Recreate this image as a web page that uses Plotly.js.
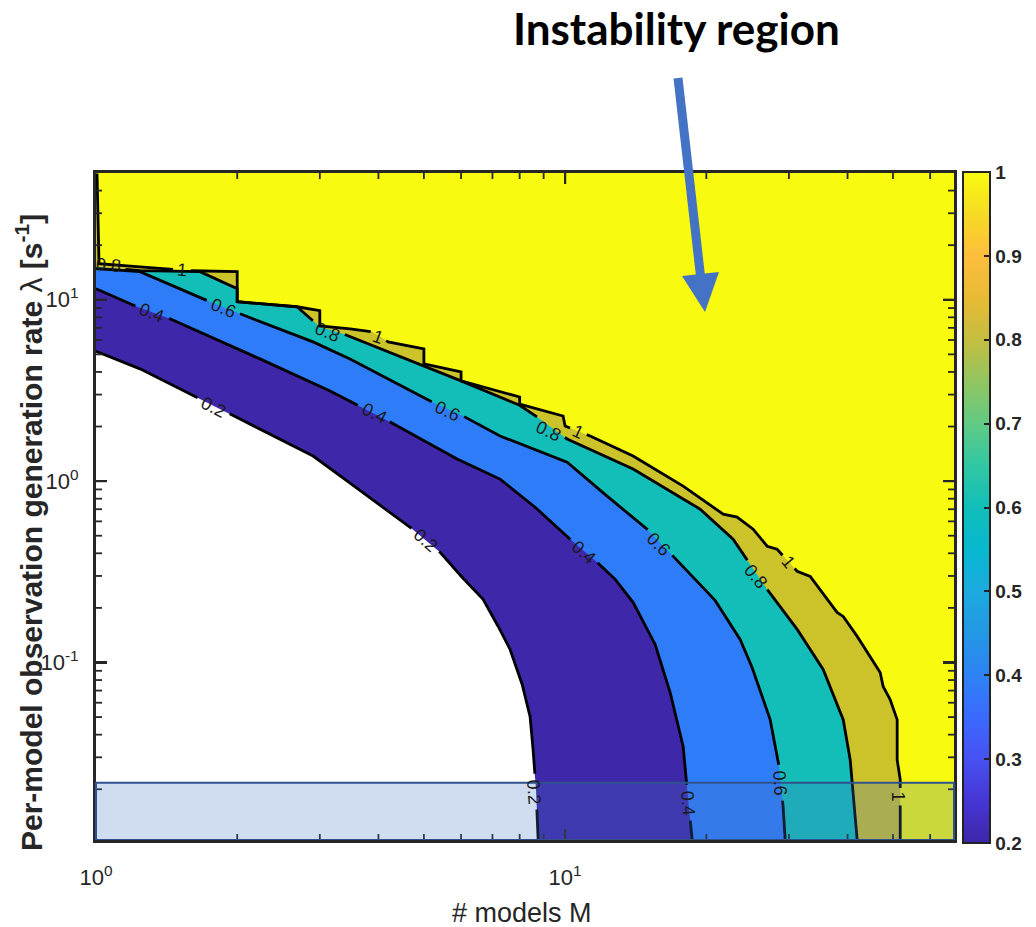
<!DOCTYPE html>
<html><head><meta charset="utf-8">
<script src="https://cdn.plot.ly/plotly-3.0.1.min.js"></script>
<style>html,body{margin:0;padding:0;background:#fff}#chart{width:1036px;height:927px}</style>
</head><body><div id="chart"></div>
<script>
// ---------------- data ----------------
// contour lines: # models M  vs  per-model rate lambda [1/s]
const line02M = [1, 1.241, 1.666, 1.931, 2.902, 3.48, 4.672, 5.414, 6.03, 6.686, 7.20, 7.633, 8.10, 8.42, 8.545, 8.67, 8.76];
const line02L = [5.2, 4.16, 2.84, 2.345, 1.375, 0.975, 0.557, 0.405, 0.295, 0.2229, 0.158, 0.118, 0.0756, 0.0503, 0.0331, 0.0199, 0.0105];

const line04M = [1, 1.223, 1.438, 2.237, 3.155, 4.236, 5.886, 7.267, 8.63, 10.25, 11.7, 12.79, 13.96, 15.56, 16.75, 17.85, 18.29, 18.66];
const line04L = [11.5, 9.15, 7.85, 4.72, 3.14, 2.118, 1.323, 1.026, 0.718, 0.4785, 0.3568, 0.2874, 0.2145, 0.1257, 0.0683, 0.0344, 0.0175, 0.0105];

const line06M = [1, 1.241, 1.75, 2.028, 2.902, 3.48, 5.154, 6.06, 7.267, 10.1, 12.29, 14.96, 17.0, 20.88, 23.61, 25.04, 27.36, 28.46, 29.16, 29.45];
const line06L = [14.84, 14.28, 9.75, 8.37, 5.86, 4.72, 2.767, 2.286, 1.773, 1.273, 0.826, 0.543, 0.385, 0.22, 0.134, 0.0938, 0.0484, 0.0291, 0.016, 0.0105];

const line08M = [1, 1.241, 1.666, 2, 2, 2.683, 3, 3.363, 5, 6, 8, 8.545, 10.1, 13.96, 19.4, 22.81, 26.96, 31.24, 35.49, 39.16, 40.52, 41.12, 41.94];
const line08L = [15.2, 14.46, 14.28, 11.5, 9.75, 9.15, 7.09, 6.49, 4.32, 3.57, 2.62, 2.345, 1.706, 1.165, 0.7003, 0.478, 0.253, 0.1522, 0.0915, 0.0484, 0.0291, 0.0191, 0.0105];

const line10M = [1.005, 1.015, 1.241, 1.586, 2, 2, 2.683, 3, 3, 3.48, 3.877, 4.195, 5, 5, 6, 6, 8, 8, 9.9, 10, 11.31, 13.96, 17.85, 21.73, 23.26, 25.17, 26.96, 28.31, 31.24, 33.3, 38.0, 39.16, 41.94, 46.95, 47.64, 49.3, 51.03, 51.03, 51.8, 51.8];
const line10L = [49.7, 15.8, 15.2, 14.46, 14.28, 9.75, 9.15, 8.70, 7.18, 6.91, 6.66, 5.86, 5.36, 4.43, 4.0, 3.57, 2.91, 2.66, 2.286, 2.013, 1.773, 1.375, 0.938, 0.657, 0.633, 0.543, 0.4375, 0.421, 0.3183, 0.2986, 0.1889, 0.1795, 0.1393, 0.0881, 0.0737, 0.0625, 0.0484, 0.0291, 0.0226, 0.0105];

// contour labels
const labelText  = ['0.2', '0.2', '0.2', '0.4', '0.4', '0.4', '0.4', '0.6', '0.6', '0.6', '0.6', '0.8', '0.8', '0.8', '0.8', '1', '1', '1', '1', '1'];
const labelM     = [1.776, 5.03, 8.59, 1.316, 3.914, 10.92, 18.29, 1.866, 5.603, 15.79, 28.73, 1.061, 3.108, 9.2, 25.42, 1.525, 3.993, 10.66, 29.89, 51.3];
const labelL     = [2.564, 0.472, 0.01938, 8.47, 2.375, 0.4053, 0.01684, 9.03, 2.436, 0.4487, 0.02173, 15.61, 6.657, 1.889, 0.2986, 14.65, 6.246, 1.866, 0.3568, 0.0182];
const labelAngle = [27, 42, 86, 22, 27, 42, 86, 22, 25, 45, 86, 5, 22, 25, 50, 5, 20, 25, 50, 90];

// axes
const xRange = [1, 67.45];
const yRange = [0.0105, 50];
const xTickVals = [1, 10];
const xTickText = ['10<sup>0</sup>', '10<sup>1</sup>'];
const yTickVals = [0.1, 1, 10];
const yTickText = ['10<sup>-1</sup>', '10<sup>0</sup>', '10<sup>1</sup>'];
const xMinor = [2, 3, 4, 5, 6, 7, 8, 9, 20, 30, 40, 50, 60];
const yMinor = [0.02, 0.03, 0.04, 0.05, 0.06, 0.07, 0.08, 0.09, 0.2, 0.3, 0.4, 0.5, 0.6, 0.7, 0.8, 0.9, 2, 3, 4, 5, 6, 7, 8, 9, 20, 30, 40];

// colour bar
const cbTicks = [0.2, 0.3, 0.4, 0.5, 0.6, 0.7, 0.8, 0.9, 1];
const cbTickText = ['0.2', '0.3', '0.4', '0.5', '0.6', '0.7', '0.8', '0.9', '1'];

// highlighted lambda band
const bandLam = [0.0105, 0.0217];

// ---------------- styling ----------------
const parula = [
  [0.000, 'rgb(62,38,168)'], [0.063, 'rgb(70,54,213)'], [0.125, 'rgb(71,81,242)'],
  [0.188, 'rgb(58,106,254)'], [0.250, 'rgb(46,130,244)'], [0.313, 'rgb(35,152,228)'],
  [0.375, 'rgb(28,170,223)'], [0.438, 'rgb(7,184,207)'], [0.500, 'rgb(17,190,185)'],
  [0.563, 'rgb(50,199,163)'], [0.625, 'rgb(96,203,132)'], [0.688, 'rgb(146,197,96)'],
  [0.750, 'rgb(196,190,64)'], [0.813, 'rgb(233,186,52)'], [0.875, 'rgb(253,190,60)'],
  [0.938, 'rgb(246,219,36)'], [1.000, 'rgb(249,251,14)']
];

const lines = [
  {lvl: 1,   M: line10M, L: line10L, fill: '#CCC22A'},
  {lvl: 0.8, M: line08M, L: line08L, fill: '#14BEB8'},
  {lvl: 0.6, M: line06M, L: line06L, fill: '#2F7CF8'},
  {lvl: 0.4, M: line04M, L: line04L, fill: '#3E27A9'},
  {lvl: 0.2, M: line02M, L: line02L, fill: '#FFFFFF'}
];

// plot area in pixels
const PL = 96, PR = 954, PT = 173, PB = 840;
const W = PR - PL, H = PB - PT;
const lx0 = Math.log10(xRange[0]), lx1 = Math.log10(xRange[1]);
const ly0 = Math.log10(yRange[0]), ly1 = Math.log10(yRange[1]);
const toPx = (m, l) => [(Math.log10(m) - lx0) / (lx1 - lx0) * W, (ly1 - Math.log10(l)) / (ly1 - ly0) * H];
const mAtPx = px => Math.pow(10, lx0 + px / W * (lx1 - lx0));
const lAtPy = py => Math.pow(10, ly1 - py / H * (ly1 - ly0));
const fromPx = p => p === null ? null : [mAtPx(p[0]), lAtPy(p[1])];
const PX = px => (px - PL) / W;
const PY = py => (PB - py) / H;

// cut a gap in a polyline (pixel space) around a label
function cut(pts, c, r) {
  const out = [];
  const inside = p => p !== null && Math.hypot(p[0] - c[0], p[1] - c[1]) < r;
  if (pts[0] !== null && !inside(pts[0])) out.push(pts[0]);
  for (let i = 0; i < pts.length - 1; i++) {
    const a = pts[i], b = pts[i + 1];
    if (a === null || b === null) { if (b !== null && !inside(b)) { out.push(null); out.push(b); } else if (b === null) out.push(null); continue; }
    const dx = b[0] - a[0], dy = b[1] - a[1];
    const fx = a[0] - c[0], fy = a[1] - c[1];
    const A = dx * dx + dy * dy, B = 2 * (fx * dx + fy * dy), C = fx * fx + fy * fy - r * r;
    const disc = B * B - 4 * A * C;
    if (disc > 0 && A > 0) {
      const s = Math.sqrt(disc);
      const t1 = (-B - s) / (2 * A), t2 = (-B + s) / (2 * A);
      if (t1 > 0 && t1 < 1) { out.push([a[0] + t1 * dx, a[1] + t1 * dy]); out.push(null); }
      if (t2 > 0 && t2 < 1) { out.push([a[0] + t2 * dx, a[1] + t2 * dy]); }
    }
    if (!inside(b)) out.push(b);
  }
  return out;
}

const traces = [];
// filled bands (region below each level line)
lines.forEach(o => {
  traces.push({
    type: 'scatter', mode: 'lines', hoverinfo: 'skip', showlegend: false,
    x: o.M.concat([xRange[0], xRange[0]]),
    y: o.L.concat([yRange[0], o.L[0]]),
    fill: 'toself', fillcolor: o.fill, line: {width: 0}
  });
});
// black contour lines with label gaps
lines.forEach(o => {
  let pts = o.M.map((m, i) => toPx(m, o.L[i]));
  labelText.forEach((t, k) => {
    if (parseFloat(t) === o.lvl) {
      pts = cut(pts, toPx(labelM[k], labelL[k]), t.length === 1 ? 9 : 18);
    }
  });
  const dat = pts.map(fromPx);
  traces.push({
    type: 'scatter', mode: 'lines', hoverinfo: 'skip', showlegend: false,
    x: dat.map(d => d === null ? null : d[0]),
    y: dat.map(d => d === null ? null : d[1]),
    line: {color: '#000000', width: 2.8}, connectgaps: false
  });
});

// inside tick marks on all four sides (drawn from the tick value arrays)
function tickTrace(xv, yv, len, width) {
  const x = [], y = [];
  xv.forEach(t => {
    if (t <= xRange[0] || t >= xRange[1]) return;
    x.push(t, t, null, t, t, null);
    y.push(yRange[0], lAtPy(H - len), null, yRange[1], lAtPy(len), null);
  });
  yv.forEach(t => {
    if (t <= yRange[0] || t >= yRange[1]) return;
    x.push(xRange[0], mAtPx(len), null, xRange[1], mAtPx(W - len), null);
    y.push(t, t, null, t, t, null);
  });
  return {type: 'scatter', mode: 'lines', hoverinfo: 'skip', showlegend: false, x: x, y: y,
    line: {color: '#262626', width: width}, connectgaps: false};
}
traces.push(tickTrace(xTickVals, yTickVals, 11, 2.2));
traces.push(tickTrace(xMinor, yMinor, 6, 1.8));

// colour bar carrier
traces.push({
  type: 'scatter', mode: 'markers', hoverinfo: 'skip', showlegend: false,
  x: cbTicks.map(() => xRange[0] * 1.5), y: cbTicks.map(() => yRange[1] * 0.8),
  marker: {
    color: cbTicks, cmin: cbTicks[0], cmax: cbTicks[cbTicks.length - 1],
    colorscale: parula, opacity: 0, size: 1, showscale: true,
    colorbar: {
      x: PX(963), xanchor: 'left', xpad: 0, y: PY(843), yanchor: 'bottom', ypad: 0,
      lenmode: 'pixels', len: 671, thickness: 27, thicknessmode: 'pixels',
      outlinewidth: 2, outlinecolor: '#222',
      tickmode: 'array', tickvals: cbTicks, ticktext: cbTickText,
      ticks: 'inside', ticklen: 7, tickwidth: 2, tickcolor: '#222',
      tickfont: {family: 'Liberation Sans, Arial, sans-serif', size: 19, color: '#262626', weight: 'bold'}
    }
  }
});

const annotations = labelText.map((t, k) => ({
  x: Math.log10(labelM[k]), y: Math.log10(labelL[k]), xref: 'x', yref: 'y',
  text: t, textangle: labelAngle[k], showarrow: false,
  font: {family: 'Liberation Sans, Arial, sans-serif', size: 18, color: '#1a1a1a'}
}));
annotations.push({
  xref: 'paper', yref: 'paper', x: PX(676), y: PY(28), xanchor: 'center', yanchor: 'middle',
  text: '<b>Instability region</b>', showarrow: false,
  font: {family: 'Lato, Carlito, sans-serif', size: 44, color: '#000'}
});
// axis titles
annotations.push({
  xref: 'paper', yref: 'paper', x: PX(522), y: PY(913), xanchor: 'center', yanchor: 'middle',
  text: '# models M', showarrow: false,
  font: {family: 'Liberation Sans, Arial, sans-serif', size: 27, color: '#262626'}
});
annotations.push({
  xref: 'paper', yref: 'paper', x: PX(29), y: PY(533), xanchor: 'center', yanchor: 'middle',
  textangle: -90, showarrow: false,
  text: '<b>Per-model observation generation rate </b>λ<b> [s<sup>-1</sup>]</b>',
  font: {family: 'Liberation Sans, Arial, sans-serif', size: 30, color: '#262626'}
});

const tickFont = {family: 'Liberation Sans, Arial, sans-serif', size: 22, color: '#262626'};
const axisBase = {
  type: 'log', showgrid: false, zeroline: false, showline: true, linecolor: '#262626', linewidth: 3,
  mirror: 'ticks', ticks: 'inside', ticklen: 11, tickwidth: 2.2, tickcolor: '#262626',
  tickmode: 'array', tickfont: tickFont, layer: 'above traces'
};

const layout = {
  width: 1036, height: 927,
  margin: {l: PL, r: 1036 - PR, t: PT, b: 927 - PB, autoexpand: false},
  paper_bgcolor: '#ffffff', plot_bgcolor: '#F8FA10',
  showlegend: false, hovermode: false,
  xaxis: Object.assign({}, axisBase, {
    range: [lx0, lx1], tickvals: xTickVals, ticktext: xTickText, ticklabelstandoff: 16
  }),
  yaxis: Object.assign({}, axisBase, {
    range: [ly0, ly1], tickvals: yTickVals, ticktext: yTickText, ticklabelstandoff: 10
  }),
  annotations: annotations,
  shapes: [
    {type: 'rect', layer: 'above', xref: 'paper', yref: 'y', x0: 0, x1: 1, y0: bandLam[0], y1: bandLam[1],
     fillcolor: 'rgba(68,114,196,0.25)', line: {color: '#2F528F', width: 2}},
    {type: 'line', layer: 'above', xref: 'paper', yref: 'paper',
     x0: PX(678), y0: PY(78), x1: PX(700.5), y1: PY(276), line: {color: '#4472C4', width: 9}},
    {type: 'path', layer: 'above', xref: 'paper', yref: 'paper',
     path: 'M ' + PX(705) + ' ' + PY(312) + ' L ' + PX(682) + ' ' + PY(276) + ' L ' + PX(719) + ' ' + PY(272) + ' Z',
     fillcolor: '#4472C4', line: {width: 0}}
  ]
};

Plotly.newPlot('chart', traces, layout, {displayModeBar: false, staticPlot: true});
</script>
</body></html>
